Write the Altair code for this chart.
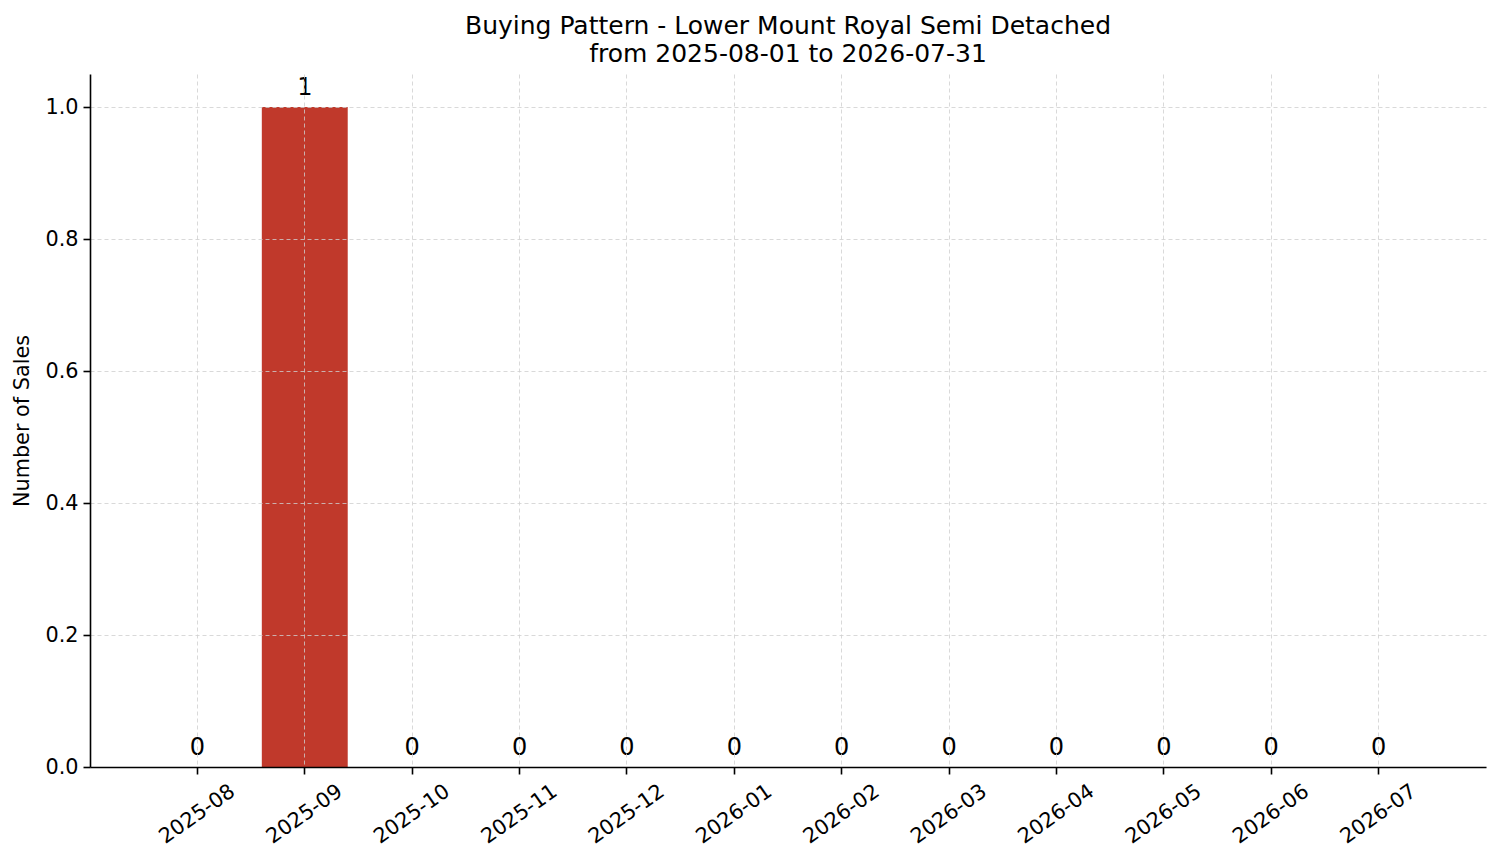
import pandas as pd
import altair as alt

months = ["2025-08", "2025-09", "2025-10", "2025-11", "2025-12", "2026-01",
          "2026-02", "2026-03", "2026-04", "2026-05", "2026-06", "2026-07"]
sales = [0, 1, 0, 0, 0, 0, 0, 0, 0, 0, 0, 0]
y_ticks = [0.0, 0.2, 0.4, 0.6, 0.8, 1.0]

df = pd.DataFrame({"month": months, "sales": sales})

FONT = "DejaVu Sans"
GRID = dict(grid=True, gridColor="#cfcfcf", gridDash=[4, 3], gridWidth=0.8, zindex=1)

x_enc = alt.X(
    "month:N",
    sort=months,
    title=None,
    scale=alt.Scale(paddingInner=0.2, paddingOuter=0.6),
    axis=alt.Axis(
        labelAngle=-35,
        labelAlign="center",
        labelBaseline="middle",
        labelPadding=40,
        bandPosition=0.5,
        **GRID))

y_enc = alt.Y(
    "sales:Q",
    title="Number of Sales",
    scale=alt.Scale(domain=[0, 1.05], nice=False, zero=True),
    axis=alt.Axis(values=y_ticks, format=".1f", labelPadding=5, titlePadding=12, **GRID))

bars = alt.Chart(df).mark_bar(color="#c0392b").encode(x=x_enc, y=y_enc)

# count above every bar
labels = alt.Chart(df).mark_text(
    dy=-12,
    baseline="alphabetic",
    fontSize=24,
    font=FONT,
    color="black").encode(
    x=alt.X("month:N", sort=months),
    y="sales:Q",
    text="sales:Q")

chart = (bars + labels).properties(
    width=1396,
    height=693,
    autosize=alt.AutoSizeParams(type="none"),
    padding={"left": 82, "top": 66, "right": 7, "bottom": 80},
    title=alt.TitleParams(
        text=["Buying Pattern - Lower Mount Royal Semi Detached",
              "from 2025-08-01 to 2026-07-31"],
        fontSize=25,
        font=FONT,
        fontWeight="normal",
        color="black",
        anchor="middle",
        lineHeight=28,
        offset=7))

chart = chart.configure_axis(
    labelFont=FONT,
    titleFont=FONT,
    labelFontSize=20.8,
    titleFontSize=20.8,
    titleFontWeight="normal",
    labelColor="black",
    titleColor="black",
    domainColor="black",
    domainWidth=1.6,
    tickColor="black",
    tickWidth=1.6,
    tickSize=7).configure_view(
    stroke=None)

chart.save("out.html", embed_options={"renderer": "svg", "actions": False})
